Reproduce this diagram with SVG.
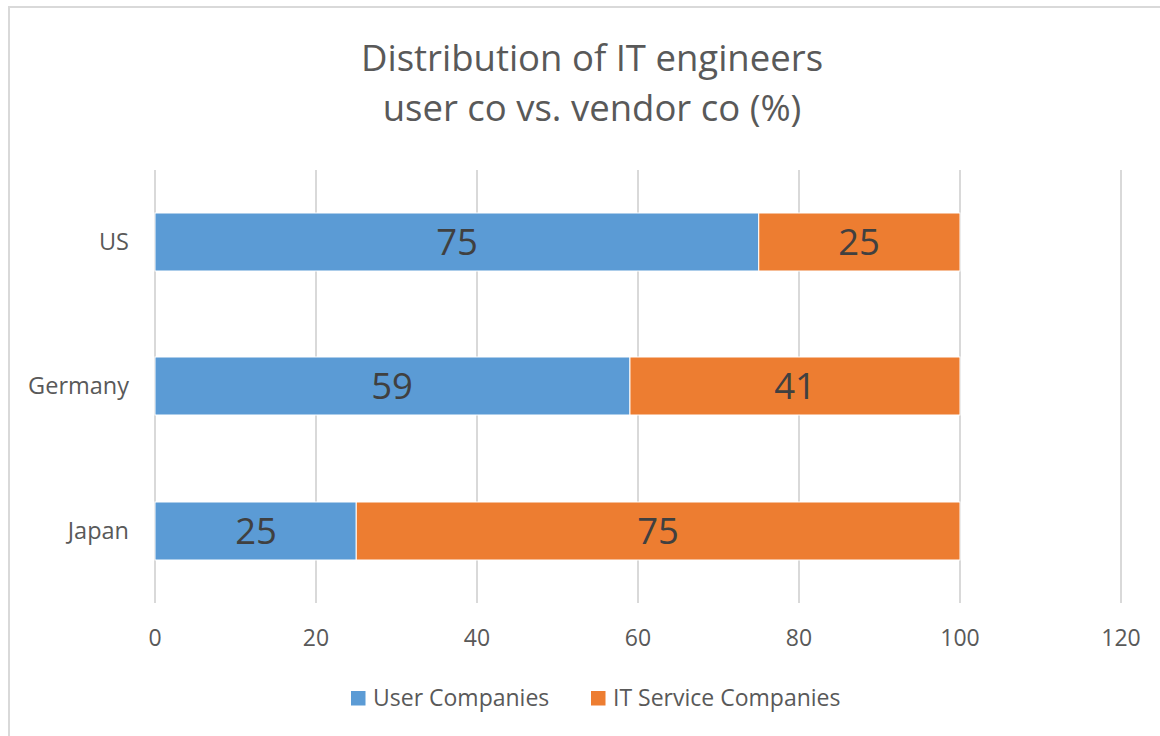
<svg xmlns="http://www.w3.org/2000/svg" width="1160" height="736" viewBox="0 0 1160 736">
  <style>
    text { font-family: "Open Sans", "Liberation Sans", sans-serif; fill: #595959; }
    .title { font-size: 36.5px; text-anchor: middle; }
    .cat { font-size: 23.5px; text-anchor: end; }
    .tick { font-size: 23px; text-anchor: middle; }
    .val { font-size: 36.5px; text-anchor: middle; fill: #404040; }
    .leg { font-size: 23px; }
    .grid { stroke: #D9D9D9; stroke-width: 2; }
    .user { fill: #5B9BD5; stroke: #ffffff; stroke-width: 1; }
    .svc { fill: #ED7D31; stroke: #ffffff; stroke-width: 1; }
  </style>

  <!-- chart area -->
  <rect x="0" y="0" width="1160" height="736" fill="#ffffff"/>
  <rect x="9" y="7" width="1170" height="750" fill="none" stroke="#D9D9D9" stroke-width="2"/>

  <!-- title -->
  <g id="title">
    <text class="title" x="592" y="71">Distribution of IT engineers</text>
    <text class="title" x="592" y="121">user co vs. vendor co (%)</text>
  </g>

  <!-- vertical gridlines, 0..120 step 20 -->
  <g id="gridlines">
    <line class="grid" x1="155" y1="170" x2="155" y2="603"/>
    <line class="grid" x1="316" y1="170" x2="316" y2="603"/>
    <line class="grid" x1="477" y1="170" x2="477" y2="603"/>
    <line class="grid" x1="638" y1="170" x2="638" y2="603"/>
    <line class="grid" x1="799" y1="170" x2="799" y2="603"/>
    <line class="grid" x1="960" y1="170" x2="960" y2="603"/>
    <line class="grid" x1="1121" y1="170" x2="1121" y2="603"/>
  </g>

  <!-- axis tick labels -->
  <g id="x-axis">
    <text class="tick" x="155" y="646">0</text>
    <text class="tick" x="316" y="646">20</text>
    <text class="tick" x="477" y="646">40</text>
    <text class="tick" x="638" y="646">60</text>
    <text class="tick" x="799" y="646">80</text>
    <text class="tick" x="960" y="646">100</text>
    <text class="tick" x="1121" y="646">120</text>
  </g>

  <!-- bars: 8.05 px per percent from x=155 -->
  <g id="bar-us">
    <rect class="user" x="155" y="213" width="603.75" height="58"/>
    <rect class="svc" x="758.75" y="213" width="201.25" height="58"/>
    <text class="cat" x="129" y="250">US</text>
    <text class="val" x="457" y="255">75</text>
    <text class="val" x="859" y="255">25</text>
  </g>
  <g id="bar-germany">
    <rect class="user" x="155" y="357" width="474.95" height="58"/>
    <rect class="svc" x="629.95" y="357" width="330.05" height="58"/>
    <text class="cat" x="129" y="394">Germany</text>
    <text class="val" x="392" y="399">59</text>
    <text class="val" x="795" y="399">41</text>
  </g>
  <g id="bar-japan">
    <rect class="user" x="155" y="502" width="201.25" height="58"/>
    <rect class="svc" x="356.25" y="502" width="603.75" height="58"/>
    <text class="cat" x="129" y="539">Japan</text>
    <text class="val" x="256" y="544">25</text>
    <text class="val" x="658" y="544">75</text>
  </g>

  <!-- legend -->
  <g id="legend">
    <rect x="351" y="691" width="14.5" height="14.5" fill="#5B9BD5"/>
    <text class="leg" x="373" y="706">User Companies</text>
    <rect x="591" y="691" width="14.5" height="14.5" fill="#ED7D31"/>
    <text class="leg" x="613" y="706">IT Service Companies</text>
  </g>
</svg>
